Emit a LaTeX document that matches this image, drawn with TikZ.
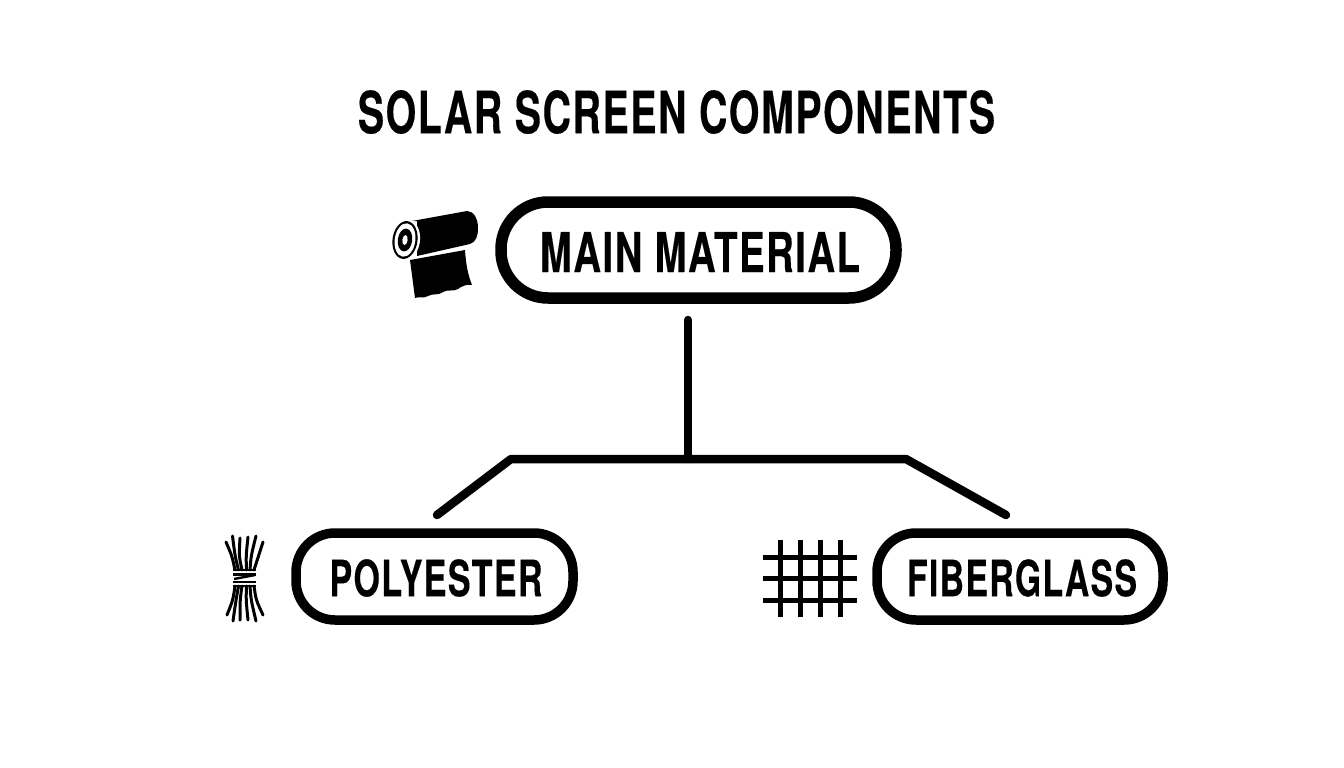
\documentclass[tikz,border=0pt]{standalone}
\usepackage{fontspec}
\usepackage{graphicx}
\setmainfont{TeX Gyre Heros}[LetterSpace=4,BoldFeatures={FakeBold=0.35}]
\newcommand{\fitlabel}[3]{\resizebox{#1pt}{#2pt}{\bfseries #3}}
\tikzset{
  pill/.style={draw=black,fill=white,rounded corners=#1,inner sep=0pt},
  link/.style={draw=black,line width=8.5pt,line cap=round,line join=round},
  strand/.style={draw=black,line width=3pt,line cap=round},
  gridline/.style={draw=black,line width=5pt},
  band/.style={draw=black,line width=2.4pt}
}
\begin{document}
\begin{tikzpicture}[x=1pt,y=-1pt]
\useasboundingbox (0,0) rectangle (1344,768);
\fill[white] (0,0) rectangle (1344,768);
\node[inner sep=0pt] (title) at (676.5,112) {\fitlabel{637}{43}{SOLAR SCREEN COMPONENTS}};
\node[pill=47pt,line width=11.5pt,minimum width=395pt,minimum height=96pt] (main) at (698.5,250) {};
\node[inner sep=0pt] (maintext) at (700,252) {\fitlabel{320}{40}{MAIN MATERIAL}};
\node[pill=39pt,line width=9.5pt,minimum width=277pt,minimum height=87pt] (poly) at (434.5,576.5) {};
\node[inner sep=0pt] (polytext) at (436,578) {\fitlabel{213}{37}{POLYESTER}};
\node[pill=39pt,line width=9.5pt,minimum width=286pt,minimum height=87pt] (fiber) at (1020,576.5) {};
\node[inner sep=0pt] (fibertext) at (1022,578) {\fitlabel{230}{37}{FIBERGLASS}};
\coordinate (stemtop) at (688,320);
\coordinate (stembot) at (688,459);
\coordinate (leftbend) at (511,459);
\coordinate (rightbend) at (906,459);
\coordinate (leftend) at (437,515);
\coordinate (rightend) at (1006,515);
\draw[link] (stemtop) -- (stembot);
\draw[link] (leftend) -- (leftbend) -- (rightbend) -- (rightend);
% roll icon
\fill (410,260) -- (465,250) .. controls (466,265) and (468,275) .. (472,285)
  .. controls (467,284) and (462,286) .. (458,289) .. controls (453,292) and (448,289) .. (443,292)
  .. controls (438,296) and (433,293) .. (428,296) .. controls (423,299) and (420,296) .. (415,298) -- cycle;
\fill (412,221) -- (467,211) .. controls (474,211) and (478,219) .. (478,228)
  .. controls (478,236) and (476,242) .. (470,244) -- (417,256)
  -- (417,221) -- cycle;
\begin{scope}[shift={(405,240)},rotate=-8]
\fill[white] (0,0) ellipse (15pt and 21pt);
\fill[black] (0,0) ellipse (12.5pt and 19pt);
\fill[white] (0,0) ellipse (10.3pt and 16.8pt);
\fill[black] (0,0) ellipse (7.2pt and 11.5pt);
\fill[white] (0,0) ellipse (2.6pt and 5pt);
\end{scope}
% bundle icon
\foreach \bx/\tx/\ty/\cx in {235/226/542/232,238.5/232.5/536/235,242/240/538/239,246.5/248/537/246,250/256/536/251,254/263/542/258}{
  \draw[strand] (\bx,570) .. controls (\cx,556) .. (\tx,\ty);
}
\foreach \bx/\tx/\ty/\cx in {235/227/615/233,238.5/233/621/236,242/240/620/240,246.5/248/620/246,250/256/621/251,254/263/615/256}{
  \draw[strand] (\bx,586) .. controls (\cx,600) .. (\tx,\ty);
}
\foreach \yy in {570,574.5,582,586}{\draw[band] (233,\yy) -- (256,\yy);}
\draw[band] (234,579) -- (255,575);
% grid icon
\foreach \xx in {780,800,820,840}{\draw[gridline] (\xx,540) -- (\xx,617);}
\foreach \yy in {557,578,600}{\draw[gridline] (763,\yy) -- (857,\yy);}
\end{tikzpicture}
\end{document}
